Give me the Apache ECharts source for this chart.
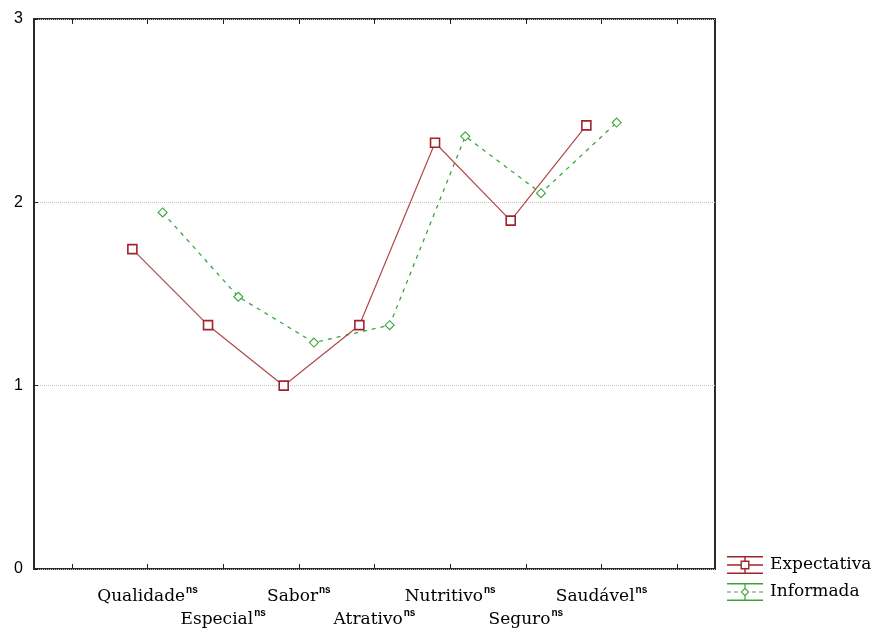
<!DOCTYPE html>
<html>
<head>
<meta charset="utf-8">
<script src="https://cdn.jsdelivr.net/npm/echarts@6/dist/echarts.min.js"></script>
<style>
  html, body { margin: 0; padding: 0; background: #fff; }
  #chart { width: 879px; height: 631px; }
</style>
</head>
<body>
<div id="chart"></div>
<script>
// Attribute names, one per slot; the empty slots pad both ends of the axis.
const categories = ['', 'Qualidade', 'Especial', 'Sabor', 'Atrativo', 'Nutritivo', 'Seguro', 'Saudável', ''];
const attributes = ['Qualidade', 'Especial', 'Sabor', 'Atrativo', 'Nutritivo', 'Seguro', 'Saudável'];
const significance = ['ns', 'ns', 'ns', 'ns', 'ns', 'ns', 'ns'];

// Mean scores for each attribute
const expectativa = [1.745, 1.33, 1.00, 1.33, 2.325, 1.90, 2.42];
const informada   = [1.945, 1.485, 1.235, 1.33, 2.36, 2.05, 2.435];

const yTicks = [0, 1, 2, 3];

const seriesNames = ['Expectativa', 'Informada'];
const seriesOffset = 0.2; // the two groups sit either side of each tick

const RED = '#a2242b';
const RED_LINE = '#b0484a';
const GREEN = '#3aa63a';
const SERIF = 'DejaVu Serif';

// Legend glyphs: whisker caps, centre line and hollow marker
const iconExpectativa = 'path://' +
  'M0 0H36V1.4H0Z M0 16.6H36V18H0Z ' +
  'M0 8.3H13.5V9.7H0Z M22.5 8.3H36V9.7H22.5Z ' +
  'M17.3 1.4H18.7V4.5H17.3Z M17.3 13.5H18.7V16.6H17.3Z ' +
  'M13.5 4.5H22.5V13.5H13.5Z M14.9 5.9V12.1H21.1V5.9Z';
const iconInformada = 'path://' +
  'M0 0H36V1.4H0Z M0 16.6H36V18H0Z ' +
  'M0 8.4H4V9.6H0Z M7 8.4H11V9.6H7Z M25 8.4H29V9.6H25Z M32 8.4H36V9.6H32Z ' +
  'M17.4 1.4H18.6V5H17.4Z M17.4 13H18.6V16.6H17.4Z ' +
  'M18 4.6L22.4 9L18 13.4L13.6 9Z M18 6.2L15.2 9L18 11.8L20.8 9Z';

function toPoints(values, offset) {
  return values.map(function (v, i) {
    return [categories.indexOf(attributes[i]) + offset, v];
  });
}

const chart = echarts.init(document.getElementById('chart'));

chart.setOption({
  animation: false,
  backgroundColor: '#fff',
  grid: {
    left: 34, right: 164, top: 19, bottom: 61,
    show: true, borderColor: '#2a2a2a', borderWidth: 2, backgroundColor: 'transparent'
  },
  legend: {
    orient: 'vertical',
    left: 727, top: 556,
    padding: 0,
    itemWidth: 36, itemHeight: 18, itemGap: 9,
    textStyle: { fontFamily: SERIF, fontSize: 17, color: '#000', padding: [2, 0, 0, 2] },
    data: [
      { name: seriesNames[0], icon: iconExpectativa, itemStyle: { color: RED, borderWidth: 0 } },
      { name: seriesNames[1], icon: iconInformada, itemStyle: { color: GREEN, borderWidth: 0 } }
    ]
  },
  xAxis: [
    {
      type: 'category',
      data: categories,
      boundaryGap: true,
      position: 'bottom',
      axisLine: { show: false, onZero: false },
      axisTick: { show: true, inside: true, length: 5, alignWithLabel: true, interval: 0,
                  lineStyle: { color: '#222', width: 1 } },
      axisLabel: {
        interval: 0,
        margin: 16,
        lineHeight: 23,
        formatter: function (val, idx) {
          if (!val) return '';
          const k = attributes.indexOf(val);
          const txt = '{a|' + val + '}{s|' + significance[k] + '}';
          return (k % 2 === 1) ? '\n' + txt : txt;
        },
        rich: {
          a: { fontFamily: SERIF, fontSize: 17, color: '#000', lineHeight: 23 },
          s: { fontFamily: 'Liberation Sans', fontSize: 10, fontWeight: 'bold', color: '#000',
               lineHeight: 23, verticalAlign: 'top', padding: [0, 0, 10, 1] }
        }
      },
      splitLine: { show: false }
    },
    {
      type: 'value',
      min: -0.5, max: 8.5,
      show: false
    },
    {
      type: 'category',
      data: categories,
      boundaryGap: true,
      position: 'top',
      axisLine: { show: false, onZero: false },
      axisTick: { show: true, inside: true, length: 5, alignWithLabel: true, interval: 0,
                  lineStyle: { color: '#222', width: 1 } },
      axisLabel: { show: false },
      splitLine: { show: false }
    }
  ],
  yAxis: {
    type: 'value',
    position: 'left',
    min: yTicks[0], max: yTicks[yTicks.length - 1], interval: 1,
    axisLine: { show: false, onZero: false },
    axisTick: { show: true, inside: true, length: 4, lineStyle: { color: '#222', width: 1 } },
    axisLabel: { fontFamily: 'Liberation Sans', fontSize: 16, color: '#000', margin: 11 },
    splitLine: { show: true, lineStyle: { color: '#c4c4c4', type: [1, 1], width: 1 } }
  },
  series: [
    {
      name: seriesNames[0],
      type: 'line',
      xAxisIndex: 1,
      data: toPoints(expectativa, -seriesOffset),
      symbol: 'rect',
      symbolSize: 9,
      lineStyle: { color: RED_LINE, width: 1.2 },
      itemStyle: { color: '#fff', borderColor: RED, borderWidth: 1.6 },
      z: 3
    },
    {
      name: seriesNames[1],
      type: 'line',
      xAxisIndex: 1,
      data: toPoints(informada, seriesOffset),
      symbol: 'diamond',
      symbolSize: 9,
      lineStyle: { color: GREEN, width: 1.3, type: [4, 5] },
      itemStyle: { color: '#fff', borderColor: GREEN, borderWidth: 1.1 },
      z: 2
    }
  ]
});
</script>
</body>
</html>
